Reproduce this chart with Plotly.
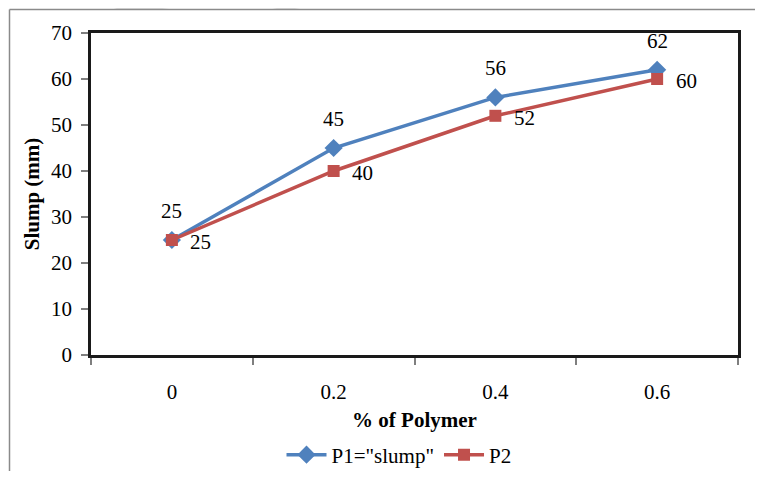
import plotly.graph_objects as go

categories = ["0", "0.2", "0.4", "0.6"]
p1_values = [25, 45, 56, 62]
p2_values = [25, 40, 52, 60]
p1_name = 'P1="slump"'
p2_name = "P2"
y_ticks = [0, 10, 20, 30, 40, 50, 60, 70]

BLUE = "#4F81BD"
RED = "#C0504D"
FONT = "Liberation Serif, Tinos, Times New Roman, DejaVu Serif, serif"

OFF = 8  # page body margin offset (each side)
W, H = 763 - 2 * OFF, 479 - 2 * OFF
L, R, T, B = 91 - OFF, 25 - OFF, 33 - OFF, 124 - OFF
PW, PH = W - L - R, H - T - B


def px(x, y):
    # reference-page pixel -> paper coordinates
    return (x - OFF - L) / PW, (T + PH - (y - OFF)) / PH


def poly(points):
    pts = [px(x, y) for x, y in points]
    return "M " + " L ".join(f"{a:.4f},{b:.4f}" for a, b in pts) + " Z"


fig = go.Figure()
fig.add_trace(go.Scatter(
    x=categories, y=p1_values, name=p1_name, mode="lines+markers",
    line=dict(color=BLUE, width=3.5),
    marker=dict(symbol="diamond", size=14, color=BLUE),
))
fig.add_trace(go.Scatter(
    x=categories, y=p2_values, name=p2_name, mode="lines+markers",
    line=dict(color=RED, width=3.5),
    marker=dict(symbol="square", size=12, color=RED),
))

annotations = []
for i, v in enumerate(p1_values):
    annotations.append(dict(x=i, y=v, xref="x", yref="y", text=str(v), showarrow=False,
                            yshift=29, font=dict(family=FONT, size=21, color="black")))
for i, v in enumerate(p2_values):
    annotations.append(dict(x=i, y=v, xref="x", yref="y", text=str(v), showarrow=False,
                            xshift=29, yshift=-2, font=dict(family=FONT, size=21, color="black")))

shapes = []
gray = "#e3e3e3"
for pts in [
    [(117, 8), (162, 8), (173, 9.5), (112, 9.5)],
    [(277, 8), (300, 8), (292, 9.5), (270, 9.5)],
]:
    shapes.append(dict(type="path", path=poly(pts), xref="paper", yref="paper",
                       fillcolor=gray, line=dict(width=0), layer="below"))
# outer chart frame: only top and left edges are visible in the reference
fx0, fy0 = px(9.5, 9.5)
fx1, fy1 = px(800, 520)
shapes.append(dict(type="line", xref="paper", yref="paper", x0=fx0, y0=fy0, x1=fx1, y1=fy0,
                   line=dict(color="#8a8a8a", width=1.5), layer="below"))
shapes.append(dict(type="line", xref="paper", yref="paper", x0=fx0, y0=fy0, x1=fx0, y1=fy1,
                   line=dict(color="#8a8a8a", width=1.5), layer="below"))

fig.update_layout(
    width=W, height=H,
    margin=dict(l=L, r=R, t=T, b=B, autoexpand=False),
    paper_bgcolor="white", plot_bgcolor="rgba(0,0,0,0)",
    font=dict(family=FONT, size=21, color="black"),
    showlegend=True,
    legend=dict(orientation="h", x=px(399, 0)[0], xanchor="center", y=px(0, 455)[1], yanchor="middle",
                font=dict(family=FONT, size=21), itemwidth=40, tracegroupgap=0,
                bgcolor="rgba(0,0,0,0)"),
    annotations=annotations,
    shapes=shapes,
)
fig.update_xaxes(
    type="category", range=[-0.5, 3.5], tickson="boundaries", automargin=False,
    ticks="outside", ticklen=7, tickcolor="#7f7f7f", tickwidth=1.5,
    showline=True, linecolor="#1a1a1a", linewidth=2.5, mirror=True,
    showgrid=False, zeroline=False, ticklabelstandoff=16,
    tickfont=dict(family=FONT, size=21),
    title=dict(text="<b>% of Polymer</b>", font=dict(family=FONT, size=21), standoff=10),
)
fig.update_yaxes(
    range=[0, 70], tickvals=y_ticks, automargin=False,
    ticks="outside", ticklen=7, tickcolor="#7f7f7f", tickwidth=1.5,
    showline=True, linecolor="#1a1a1a", linewidth=2.5, mirror=True,
    showgrid=False, zeroline=False, ticklabelstandoff=5,
    tickfont=dict(family=FONT, size=21),
    title=dict(text="<b>Slump (mm)</b>", font=dict(family=FONT, size=21), standoff=6),
)

fig.write_html("out.html")
